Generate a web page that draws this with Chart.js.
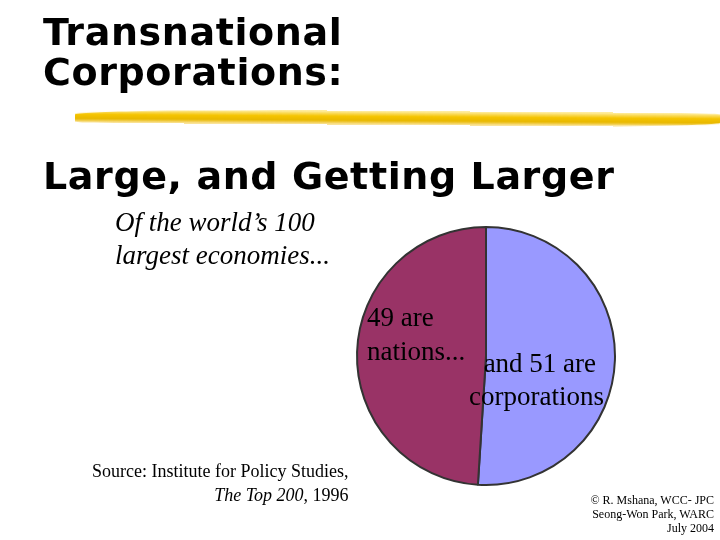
<!DOCTYPE html>
<html>
<head>
<meta charset="utf-8">
<script src="https://cdn.jsdelivr.net/npm/chart.js@4"></script>
<style>
  body { margin: 0; background: #fff; }
  #wrap { position: relative; width: 720px; height: 540px; overflow: hidden; }
  canvas { position: absolute; left: 0; top: 0; }
  .t { position: absolute; white-space: nowrap; color: #000; }
  .title { font-family: "DejaVu Sans", sans-serif; font-weight: bold; font-size: 38px; letter-spacing: 0.6px; line-height: 40px; }
  .serif { font-family: "Liberation Serif", serif; }
  #brush { position: absolute; left: 75px; top: 111px; width: 645px; height: 14px;
    background: linear-gradient(180deg, rgba(255,230,120,0.6), #f5c400 40%, #e8b800 70%, rgba(250,210,90,0.5));
    border-radius: 40% 10% 30% 10%; transform: rotate(0.4deg); }
</style>
</head>
<body>
<div id="wrap">
  <canvas id="pie" width="720" height="540"></canvas>
  <div class="t title" style="left:43px; top:12px;">Transnational<br>Corporations:</div>
  <div id="brush"></div>
  <div class="t title" style="left:43px; top:156px;">Large, and Getting Larger</div>
  <div class="t serif" style="left:115px; top:206px; font-size:27px; font-style:italic; line-height:33px;">Of the world’s 100<br>largest economies...</div>
  <div class="t serif" style="left:367px; top:300px; font-size:27px; line-height:34px;">49 are<br>nations...</div>
  <div class="t serif" style="left:469px; top:347px; font-size:27px; line-height:33px; text-align:center;">&nbsp;and 51 are<br>corporations</div>
  <div class="t serif" style="left:92px; top:459px; font-size:18px; line-height:24px; text-align:right;">Source: Institute for Policy Studies,<br><i>The Top 200</i>, 1996</div>
  <div class="t serif" style="right:6px; top:493px; font-size:12px; line-height:14px; text-align:right;">© R. Mshana, WCC- JPC<br>Seong-Won Park, WARC<br>July 2004</div>
</div>
<script>
const categories = ['Corporations', 'Nations'];
const values = [51, 49];
const colors = ['#9999ff', '#993366'];

new Chart(document.getElementById('pie'), {
  type: 'pie',
  data: {
    labels: categories,
    datasets: [{
      data: values,
      backgroundColor: colors,
      borderColor: '#333333',
      borderWidth: 2
    }]
  },
  options: {
    responsive: false,
    animation: false,
    layout: { padding: { left: 356, right: 104, top: 222, bottom: 50 } },
    plugins: { legend: { display: false }, tooltip: { enabled: false } }
  }
});
</script>
</body>
</html>
